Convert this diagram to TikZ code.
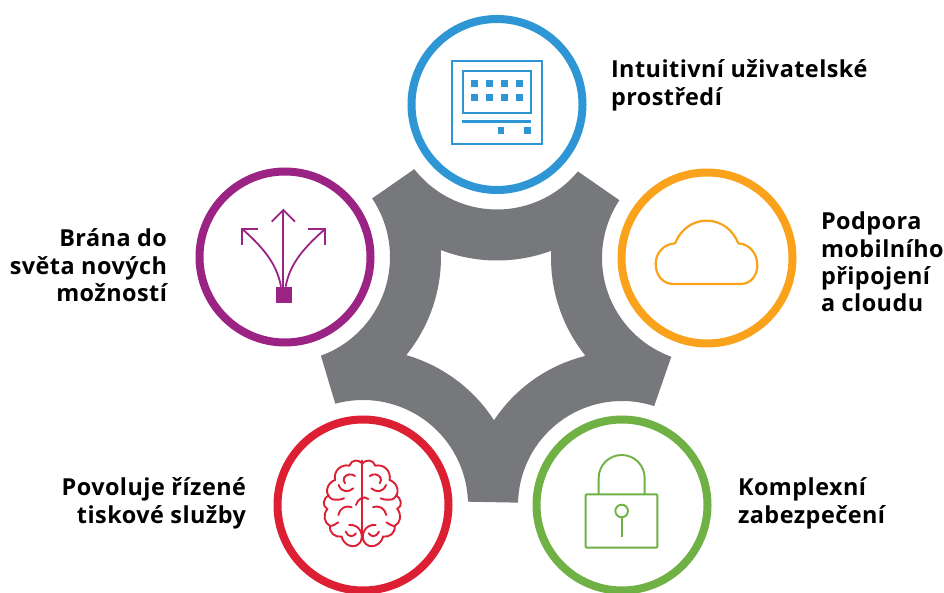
\documentclass[tikz,border=0pt]{standalone}
\usepackage{fontspec}
\setmainfont{Open Sans}[BoldFont={Open Sans Bold},LetterSpace=2]
\definecolor{cgray}{HTML}{77787B}
\definecolor{cblue}{HTML}{2E96D4}
\definecolor{corange}{HTML}{FAA21B}
\definecolor{cgreen}{HTML}{6FB144}
\definecolor{cred}{HTML}{DC1F33}
\definecolor{cpurple}{HTML}{9B2383}
\newcommand{\arcOn}[4]{-- ([shift={(#3:#2)}]#1) arc[start angle=#3,end angle=#4,radius=#2]}
\tikzset{
  ring/.style={circle,draw=#1,line width=8pt,minimum size=171pt,inner sep=0pt,outer sep=0pt,fill=white},
  label/.style={font=\bfseries\fontsize{23.4}{27.4}\selectfont,inner sep=0pt,outer sep=0pt},
  zoomA/.style={x=0.3333pt,y=-0.3333pt}
}
\begin{document}
\begin{tikzpicture}[x=1pt,y=1pt]
\useasboundingbox (0,0) rectangle (944,592);
\coordinate (cb) at (497,487.5);
\coordinate (co) at (707,334);
\coordinate (cg) at (622,87);
\coordinate (cr) at (363,87);
\coordinate (cp) at (285,335);
% grey star
\fill[cgray,even odd rule]
 ([shift={(218:105pt)}]cb) arc[start angle=218,end angle=320.4,radius=105pt]
 \arcOn{co}{105pt}{146.6}{250.1}
 \arcOn{cg}{104pt}{72}{178.7}
 \arcOn{cr}{105pt}{1.8}{105.3}
 \arcOn{cp}{105pt}{-70}{33.9}
 -- cycle
 ([shift={(248.95:156pt)}]cb) arc[start angle=248.95,end angle=290.1,radius=156pt]
 \arcOn{co}{156pt}{177.5}{218.6}
 \arcOn{cg}{153.5pt}{104.3}{146.35}
 \arcOn{cr}{156pt}{32.9}{73.9}
 \arcOn{cp}{156pt}{-38.85}{2.6}
 -- cycle;
% rings
\node[ring=cblue] (nb) at (cb) {};
\node[ring=corange] (no) at (co) {};
\node[ring=cgreen] (ng) at (cg) {};
\node[ring=cred] (nr) at (cr) {};
\node[ring=cpurple] (np) at (cp) {};
% screen icon
\begin{scope}[shift={(400,582)},zoomA,cblue]
 \draw[line width=1.8pt] (155,152) rectangle (425,402);
 \draw[line width=2pt] (190,182) rectangle (392,310);
 \foreach \xx in {223,268,314,359} \foreach \yy in {221,262}
   \fill (\xx-11,\yy-10) rectangle (\xx+11,\yy+10);
 \fill (186,329) rectangle (393,339);
 \foreach \xx in {303,382} \fill (\xx-10,351) rectangle (\xx+10,371);
\end{scope}
% cloud icon
\begin{scope}[shift={(640,382)},zoomA]
 \draw[corange,line width=2.2pt,line join=round] (100,222) -- (300,222)
   .. controls (335,222) and (352,195) .. (352,165)
   .. controls (352,130) and (328,102) .. (295,100)
   .. controls (278,58) and (242,32) .. (200,32)
   .. controls (158,32) and (122,58) .. (105,100)
   .. controls (72,102) and (47,128) .. (47,162)
   .. controls (47,195) and (68,222) .. (100,222) -- cycle;
\end{scope}
% lock icon
\begin{scope}[shift={(570,122)},zoomA,cgreen]
 \draw[line width=1.9pt,rounded corners=1pt] (47,73) rectangle (262,233);
 \draw[line width=1.9pt] (86,73) -- (86,24) arc[start angle=180,end angle=0,radius=23pt] -- (224,73);
 \draw[line width=1.9pt] (155,123) circle[radius=6.3pt];
 \draw[line width=1.9pt] (155,142) -- (155,200);
\end{scope}
% arrows icon
\begin{scope}[shift={(220,397)},zoomA,cpurple,line width=1.8pt]
 \fill (167,275) rectangle (215,323);
 \draw (190,275) -- (190,46);
 \draw (155,80) -- (190,45) -- (225,80);
 \draw (183,275) .. controls (170,200) and (120,150) .. (68,103);
 \draw (115,102) -- (67,102) -- (67,150);
 \draw (197,275) .. controls (210,200) and (262,150) .. (314,103);
 \draw (265,102) -- (316,102) -- (316,150);
\end{scope}
% brain icon
\begin{scope}[shift={(300,192)},zoomA,cred,line width=1.9pt,line cap=round]
 \draw (187,182) -- (187,420);
 \draw (168,315) .. controls (172,298) and (192,285) .. (205,297);
 \foreach \m in {1,-1}{
 \begin{scope}[shift={(187,0)},xscale=\m,shift={(-187,0)}]
 \draw (187,190) .. controls (175,178) and (155,178) .. (148,197)
   .. controls (125,192) and (100,210) .. (105,240)
   .. controls (78,250) and (72,285) .. (97,298)
   .. controls (108,300) and (122,300) .. (132,295);
 \draw (86,285) .. controls (70,295) and (65,318) .. (82,327)
   .. controls (68,345) and (72,368) .. (90,378)
   .. controls (98,378) and (108,372) .. (115,367);
 \draw (90,378) .. controls (88,400) and (105,412) .. (125,410)
   .. controls (130,435) and (165,452) .. (182,425)
   .. controls (192,405) and (180,372) .. (147,375);
 \draw (137,395) .. controls (145,412) and (160,412) .. (168,400);
 \draw (133,232) .. controls (140,222) and (155,220) .. (165,228);
 \draw (135,250) .. controls (128,245) and (132,236) .. (133,232);
 \draw (116,255) .. controls (125,278) and (145,278) .. (160,265);
 \draw (115,345) .. controls (120,325) and (135,315) .. (155,322);
 \end{scope}}
\end{scope}
% labels
\node[label,anchor=north west,align=left] (t1) at (611,532) {Intuitivní uživatelské\\prostředí};
\node[label,anchor=north west,align=left] (t2) at (821,380) {Podpora\\mobilního\\připojení\\a cloudu};
\node[label,anchor=north west,align=left] (t3) at (738,114) {Komplexní\\zabezpečení};
\node[label,anchor=north east,align=right] (t4) at (246,114) {Povoluje řízené\\tiskové služby};
\node[label,anchor=north east,align=right] (t5) at (167,363) {Brána do\\světa nových\\možností};
\end{tikzpicture}
\end{document}
